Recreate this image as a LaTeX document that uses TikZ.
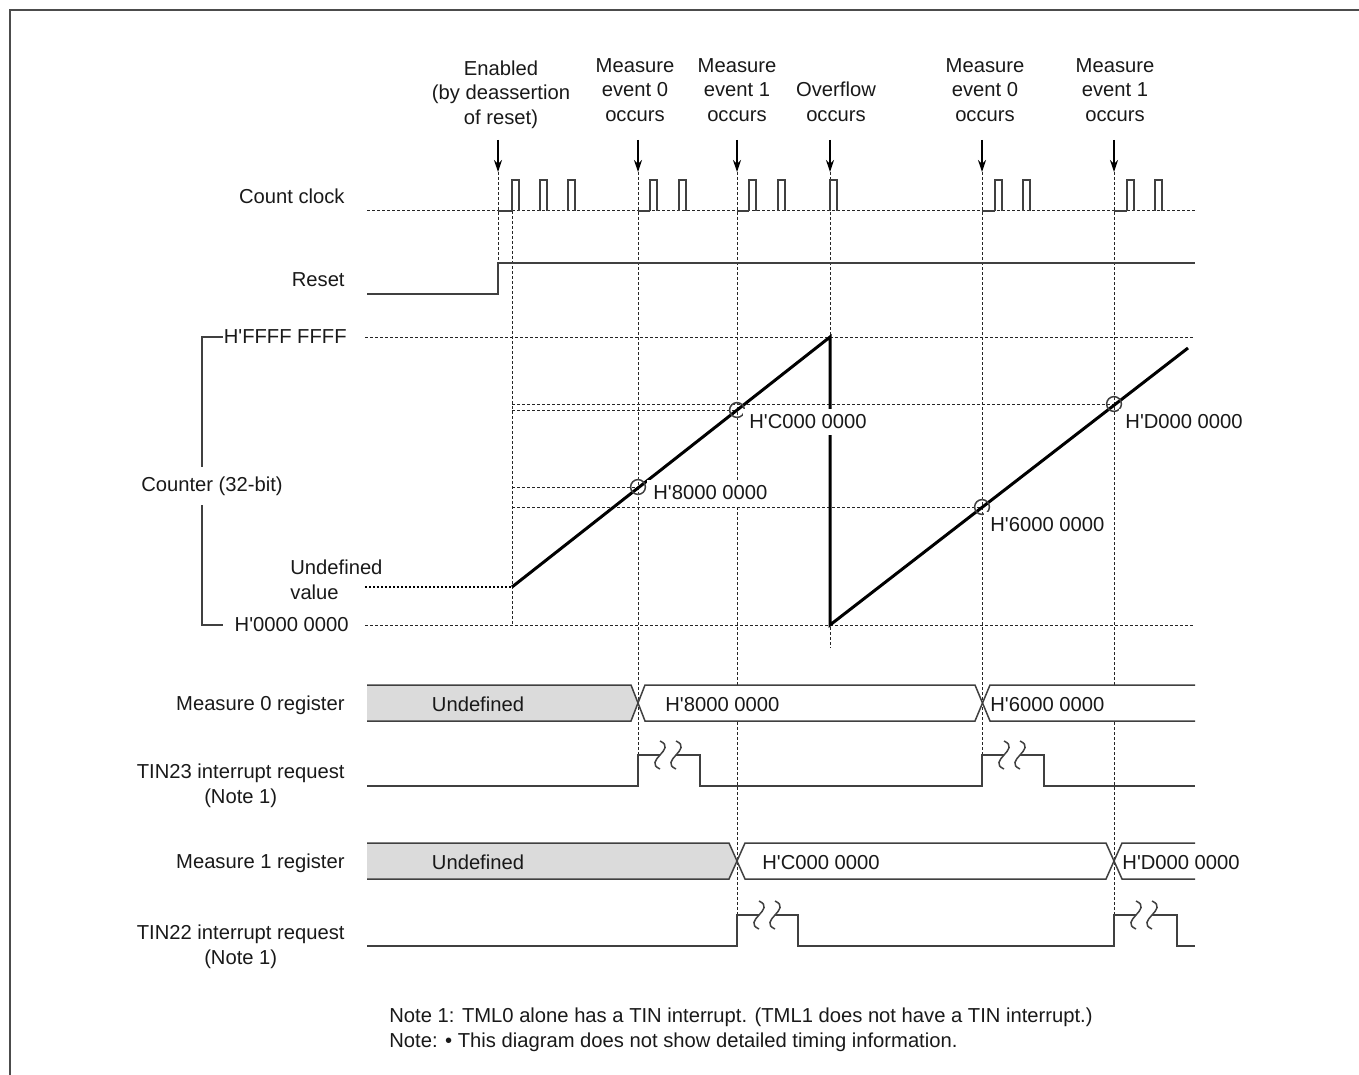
\documentclass[tikz,border=0pt]{standalone}
\usepackage{fontspec}
\setmainfont{Liberation Sans}
\usetikzlibrary{arrows.meta}

\newcommand{\hexv}[1]{H\textquotesingle#1}

\tikzset{
  sig/.style={line width=0.75pt, draw=black!75},
  guide/.style={line width=0.5pt, draw=black!85, dash pattern=on 1.5pt off 1pt},
  ramp/.style={line width=1.5pt, draw=black},
  evarrow/.style={line width=0.6pt, -{Stealth[length=6pt,width=4pt]}},
  lbl/.style={inner sep=0pt, text=black!90},
  val/.style={lbl, fill=white, inner sep=3pt},
  undef/.style={fill=black!14},
  brk/.pic={\draw[sig] (0,-14) .. controls (18,-6) and (-18,6) .. (0,14);},
}

\begin{document}
\begin{tikzpicture}[x=0.5pt, y=-0.5pt, font=\fontsize{10.1}{12.25}\selectfont]
  \useasboundingbox (0,0) rectangle (1359,1075);
  % Frame
  \draw[line width=1pt, black!70] (10,1075) -- (10,10) -- (1359,10);

  % Event points
  \coordinate (en) at (498,172);
  \coordinate (m0a) at (638,172);
  \coordinate (m1a) at (737,172);
  \coordinate (ovf) at (830,172);
  \coordinate (m0b) at (982,172);
  \coordinate (m1b) at (1114,172);

  % Event labels and arrows
  \node[lbl, align=center, anchor=south] (enL) at (501,129) {Enabled\\(by deassertion\\of reset)};
  \node[lbl, align=center, anchor=south] (m0aL) at (635,122) {Measure\\event 0\\occurs};
  \node[lbl, align=center, anchor=south] (m1aL) at (737,122) {Measure\\event 1\\occurs};
  \node[lbl, align=center, anchor=south] (ovfL) at (836,122) {Overflow\\occurs};
  \node[lbl, align=center, anchor=south] (m0bL) at (985,122) {Measure\\event 0\\occurs};
  \node[lbl, align=center, anchor=south] (m1bL) at (1115,122) {Measure\\event 1\\occurs};
  \draw[evarrow] ([yshift=16pt]en) -- (en);
  \draw[evarrow] ([yshift=16pt]m0a) -- (m0a);
  \draw[evarrow] ([yshift=16pt]m1a) -- (m1a);
  \draw[evarrow] ([yshift=16pt]ovf) -- (ovf);
  \draw[evarrow] ([yshift=16pt]m0b) -- (m0b);
  \draw[evarrow] ([yshift=16pt]m1b) -- (m1b);

  % Guide lines
  \draw[guide] (en) -- (498,263);
  \draw[guide] (m0a) -- (638,755);
  \draw[guide] (m1a) -- (737,915);
  \draw[guide] (ovf) -- (830,648);
  \draw[guide] (m0b) -- (982,755);
  \draw[guide] (m1b) -- (1114,915);
  \draw[guide] (512,211) -- (512,625);
  \draw[guide] (365,337) -- (1195,337);
  \draw[guide] (365,625) -- (1195,625);
  \draw[guide] (512,404) -- (1114,404);
  \draw[guide] (512,410) -- (737,410);
  \draw[guide] (512,487) -- (638,487);
  \draw[guide] (512,507) -- (982,507);

  % Count clock
  \node[lbl, anchor=east] (clkL) at (345,196) {Count clock};
  \draw[guide] (367,211) -- (1195,211);
  \foreach \s/\e in {498/512, 638/650, 737/749, 982/995, 1114/1127}
    \draw[sig] (\s,211) -- (\e,211);
  \foreach \p in {512,540,568,650,679,749,778,830,995,1023,1127,1155}
    \draw[sig] (\p,211) -- ++(0,-31) -- ++(7,0) -- ++(0,31);

  % Reset
  \node[lbl, anchor=east] (rstL) at (345,280) {Reset};
  \draw[sig] (367,294) -- (498,294) -- (498,263) -- (1195,263);

  % Counter
  \draw[sig] (223,337) -- (202,337) -- (202,625) -- (223,625);
  \node[lbl, fill=white, inner ysep=5pt] (cntL) at (212,486) {Counter (32-bit)};
  \node[lbl, anchor=east] (maxL) at (347,337) {\hexv{FFFF FFFF}};
  \node[lbl, anchor=east] (minL) at (349,625) {\hexv{0000 0000}};
  \node[lbl, align=left, anchor=west] (undL) at (290,580) {Undefined\\value};
  \draw[line width=1.2pt, dash pattern=on 1pt off 1pt] (365,587) -- (512,587);
  \draw[ramp] (512,587) -- (830,337) -- (830,625) -- (1188,348);
  \draw[sig] (638,487) circle[radius=3.7pt];
  \draw[sig] (737,410) circle[radius=3.7pt];
  \draw[sig] (982,507) circle[radius=3.7pt];
  \draw[sig] (1114,404) circle[radius=3.7pt];
  \node[val, anchor=west] (c8L) at (647,493) {\hexv{8000 0000}};
  \node[val, anchor=west] (cCL) at (743,422) {\hexv{C000 0000}};
  \node[val, anchor=west] (c6L) at (984,525) {\hexv{6000 0000}};
  \node[val, anchor=west] (cDL) at (1119,422) {\hexv{D000 0000}};

  % Measure 0 register
  \node[lbl, anchor=east] (r0L) at (345,705) {Measure 0 register};
  \fill[undef] (367,685) -- (631,685) -- (638,703) -- (631,721) -- (367,721) -- cycle;
  \fill[white] (638,703) -- (645,685) -- (975,685) -- (982,703) -- (975,721) -- (645,721) -- cycle;
  \fill[white] (982,703) -- (990,685) -- (1195,685) -- (1195,721) -- (990,721) -- cycle;
  \draw[sig] (367,685) -- (631,685) -- (645,721) -- (975,721) -- (990,685) -- (1195,685);
  \draw[sig] (367,721) -- (631,721) -- (645,685) -- (975,685) -- (990,721) -- (1195,721);
  \node[lbl] (r0u) at (478,704) {Undefined};
  \node[lbl, anchor=west] (r0a) at (665,705) {\hexv{8000 0000}};
  \node[lbl, anchor=west] (r0b) at (990,705) {\hexv{6000 0000}};

  % TIN23 interrupt request
  \node[lbl, align=center, anchor=east] (t23L) at (345,786) {TIN23 interrupt request\\(Note 1)};
  \draw[sig] (367,786) -- (638,786) -- (638,755) -- (660,755);
  \draw[sig] (676,755) -- (700,755) -- (700,786) -- (982,786) -- (982,755) -- (1004,755);
  \draw[sig] (1020,755) -- (1044,755) -- (1044,786) -- (1195,786);
  \pic at (660,755) {brk};
  \pic at (676,755) {brk};
  \pic at (1004,755) {brk};
  \pic at (1020,755) {brk};

  % Measure 1 register
  \node[lbl, anchor=east] (r1L) at (345,863) {Measure 1 register};
  \fill[undef] (367,843) -- (729,843) -- (737,861) -- (729,879) -- (367,879) -- cycle;
  \fill[white] (737,861) -- (745,843) -- (1106,843) -- (1114,861) -- (1106,879) -- (745,879) -- cycle;
  \fill[white] (1114,861) -- (1122,843) -- (1195,843) -- (1195,879) -- (1122,879) -- cycle;
  \draw[sig] (367,843) -- (729,843) -- (745,879) -- (1106,879) -- (1122,843) -- (1195,843);
  \draw[sig] (367,879) -- (729,879) -- (745,843) -- (1106,843) -- (1122,879) -- (1195,879);
  \node[lbl] (r1u) at (478,862) {Undefined};
  \node[lbl, anchor=west] (r1a) at (762,863) {\hexv{C000 0000}};
  \node[lbl, anchor=west] (r1b) at (1122,863) {\hexv{D000 0000}};

  % TIN22 interrupt request
  \node[lbl, align=center, anchor=east] (t22L) at (345,947) {TIN22 interrupt request\\(Note 1)};
  \draw[sig] (367,946) -- (737,946) -- (737,915) -- (759,915);
  \draw[sig] (775,915) -- (798,915) -- (798,946) -- (1114,946) -- (1114,915) -- (1136,915);
  \draw[sig] (1152,915) -- (1177,915) -- (1177,946) -- (1195,946);
  \pic at (759,915) {brk};
  \pic at (775,915) {brk};
  \pic at (1136,915) {brk};
  \pic at (1152,915) {brk};

  % Notes
  \node[lbl, anchor=west] (n1) at (389,1017) {Note 1: TML0 alone has a TIN interrupt. (TML1 does not have a TIN interrupt.)};
  \node[lbl, anchor=west] (n2) at (389,1042) {Note: \textbullet{} This diagram does not show detailed timing information.};
\end{tikzpicture}
\end{document}
